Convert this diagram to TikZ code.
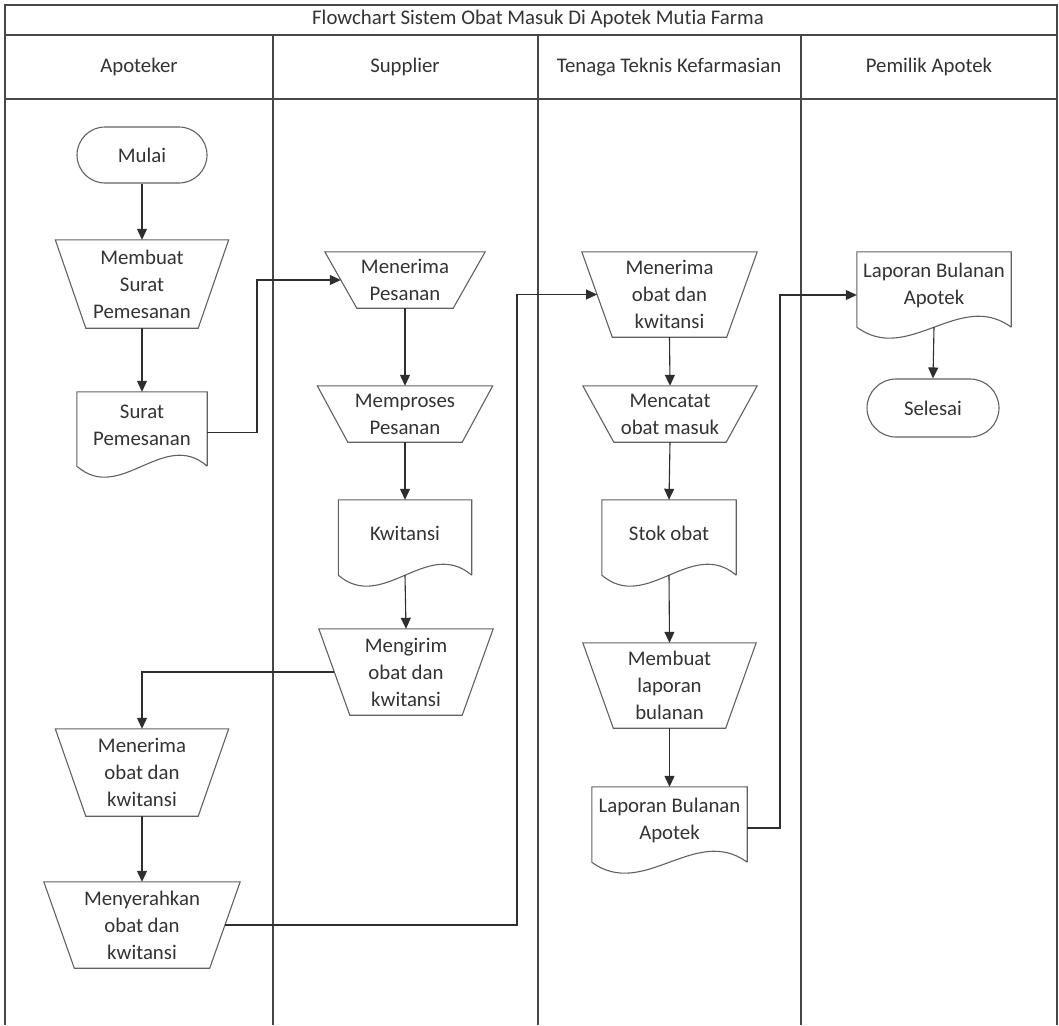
\documentclass[tikz,border=0pt]{standalone}
\usepackage{fontspec}
\setmainfont{Carlito}[Ligatures=NoCommon]
\usetikzlibrary{arrows.meta,calc}
\tikzset{
  lane/.style={draw=black!72, line width=1.4pt},
  shp/.style={draw=black!62, line width=1.1pt},
  txt/.style={font=\fontsize{20.8}{27}\selectfont, text=black!80, align=center, inner sep=0pt},
  flow/.style={draw=black!82, line width=1.1pt, -{Triangle[length=11pt,width=10pt]}},
}
\newcommand\trapnode[7]{%
  \pgfmathsetmacro\tro{(#4-#5)/2}%
  \pgfmathsetmacro\trh{(#4-#5)/4}%
  \node[txt, minimum width=#4pt, minimum height=#6pt] (#1) at (#2,#3+#6/2) {#7};
  \draw[shp] (#1.north west) -- (#1.north east) -- ([xshift=-\tro pt]#1.south east) -- ([xshift=\tro pt]#1.south west) -- cycle;
  \coordinate (#1-l) at ([xshift=\trh pt]#1.west);
  \coordinate (#1-r) at ([xshift=-\trh pt]#1.east);
}
\newcommand\docnode[6]{%
  \pgfmathsetmacro\dh{#5-8}%
  \node[txt, minimum width=#4pt, minimum height=\dh pt] (#1) at (#2,#3+\dh/2) {#6};
  \coordinate (#1-b) at ([yshift=-8pt]#1.south);
  \coordinate (#1-bl) at ([yshift=-8pt]#1.south west);
  \coordinate (#1-br) at ([yshift=-8pt]#1.south east);
  \draw[shp] (#1-br) -- (#1.north east) -- (#1.north west) -- (#1-bl)
    .. controls +(#4/3,38) and +(-#4/3,-38) .. (#1-br);
}
\begin{document}
\begin{tikzpicture}[x=1pt,y=-1pt]
\fill[white] (0,0) rectangle (1059,1025);
\useasboundingbox (0,0) rectangle (1059,1025);
% frame
\draw[lane] (5,1025) -- (5,5) -- (1057,5) -- (1057,1025);
\draw[lane] (5,35) -- (1057,35);
\draw[lane] (5,99) -- (1057,99);
\draw[lane] (273,35) -- (273,1025);
\draw[lane] (538,35) -- (538,1025);
\draw[lane] (801,35) -- (801,1025);
\node[txt] (title) at (538,19) {Flowchart Sistem Obat Masuk Di Apotek Mutia Farma};
\node[txt] (h1) at (139,67) {Apoteker};
\node[txt] (h2) at (405,67) {Supplier};
\node[txt] (h3) at (669,67) {Tenaga Teknis Kefarmasian};
\node[txt] (h4) at (929,67) {Pemilik Apotek};
% Apoteker
\node[txt, shp, rounded corners=28pt, minimum width=130pt, minimum height=56pt] (mulai) at (142,155) {Mulai};
\trapnode{membuat}{142}{240}{173}{112}{88}{Membuat\\Surat\\Pemesanan}
\docnode{surat}{142}{392}{130}{74}{Surat\\Pemesanan}
\trapnode{menobat}{142}{729}{173}{112}{87}{Menerima\\obat dan\\kwitansi}
\trapnode{menyer}{142}{882}{196}{135}{86}{Menyerahkan\\obat dan\\kwitansi}
% Supplier
\trapnode{menpes}{405}{252}{160}{96}{56}{Menerima\\Pesanan}
\trapnode{memproses}{405}{386}{175}{114}{56}{Memproses\\Pesanan}
\docnode{kwit}{405}{500}{133}{75}{Kwitansi}
\trapnode{mengirim}{406}{629}{174}{112}{86}{Mengirim\\obat dan\\kwitansi}
% TTK
\trapnode{menttk}{669.5}{252}{175}{114}{85}{Menerima\\obat dan\\kwitansi}
\trapnode{mencatat}{670}{386}{174}{112}{56}{Mencatat\\obat masuk}
\docnode{stok}{669}{500}{134}{75}{Stok obat}
\trapnode{memlap}{669.5}{643}{173}{112}{85}{Membuat\\laporan\\bulanan}
\docnode{lapttk}{669.5}{787}{155}{75}{Laporan Bulanan\\Apotek}
% Pemilik
\docnode{lappem}{934}{252}{154}{75}{Laporan Bulanan\\Apotek}
\node[txt, shp, rounded corners=29pt, minimum width=132pt, minimum height=58pt] (selesai) at (933,408) {Selesai};
% bend coordinates
\coordinate (bendA) at (257,0);
\coordinate (bendB) at (517,0);
\coordinate (bendC) at (780,0);
% connectors
\draw[flow] (mulai.south) -- (membuat.north);
\draw[flow] (membuat.south) -- (surat.north);
\draw[flow] ([yshift=-7.5pt]surat.east) -- ([yshift=-7.5pt]surat.east -| bendA) |- (menpes-l);
\draw[flow] (menpes.south) -- (memproses.north);
\draw[flow] (memproses.south) -- (kwit.north);
\draw[flow] (kwit-b) -- (mengirim.north);
\draw[flow] (mengirim-l) -| (menobat.north);
\draw[flow] (menobat.south) -- (menyer.north);
\draw[flow] (menyer-r) -- (menyer-r -| bendB) |- (menttk-l);
\draw[flow] (menttk.south) -- (mencatat.north);
\draw[flow] (mencatat.south) -- (stok.north);
\draw[flow] (stok-b) -- (memlap.north);
\draw[flow] (memlap.south) -- (lapttk.north);
\draw[flow] ([yshift=-7.5pt]lapttk.east) -- ([yshift=-7.5pt]lapttk.east -| bendC) |- ([yshift=-9.5pt]lappem.west);
\draw[flow] (lappem-b) -- (selesai.north);
\end{tikzpicture}
\end{document}
